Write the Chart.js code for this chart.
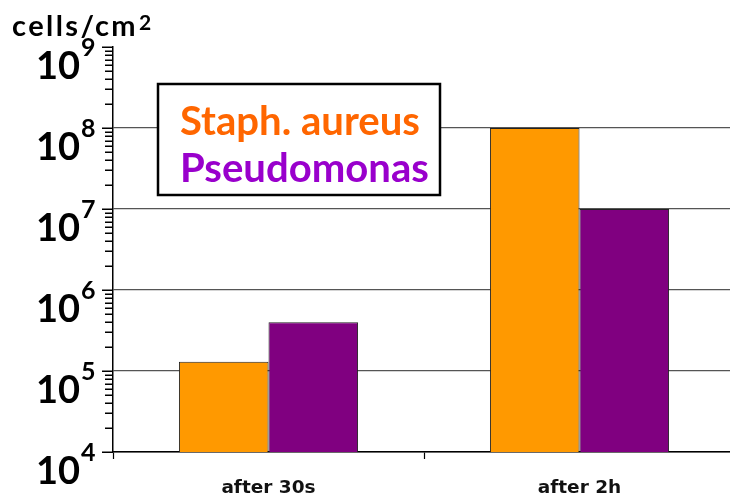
<!DOCTYPE html>
<html lang="en">
<head>
  <meta charset="UTF-8" />
  <title>cells/cm2</title>
  <script src="https://cdn.jsdelivr.net/npm/chart.js"></script>
  <style>
    body {
      margin: 0;
      background: #fff;
      overflow: hidden;
    }
    canvas {
      display: block;
    }
  </style>
</head>
<body>
  <canvas id="cellsChart" width="740" height="496"></canvas>

  <script>
    // data
    const categories = ['after 30s', 'after 2h'];
    const staphValues = [1.3e5, 1e8];
    const pseudoValues = [4e5, 1e7];
    const seriesNames = ['Staph. aureus', 'Pseudomonas'];
    const yExponents = [4, 5, 6, 7, 8, 9];

    const yMin = Math.pow(10, yExponents[0]);
    const yMax = Math.pow(10, yExponents[yExponents.length - 1]);

    // all tick values: powers of ten plus 2..9 in between
    const yTickValues = [];
    yExponents.forEach((e, i) => {
      yTickValues.push(Math.pow(10, e));
      if (i < yExponents.length - 1) {
        for (let k = 2; k <= 9; k++) yTickValues.push(k * Math.pow(10, e));
      }
    });

    const isPow10 = v => Math.abs(Math.log10(v) - Math.round(Math.log10(v))) < 1e-9;

    // ticks, 10^n labels, title and the boxed legend
    const decorations = {
      id: 'decorations',
      afterDraw(chart) {
        const ctx = chart.ctx;
        const y = chart.scales.y;
        const axisX = Math.round(chart.chartArea.left);

        ctx.save();
        ctx.fillStyle = '#000';
        yTickValues.forEach(v => {
          const p = Math.round(y.getPixelForValue(v));
          const len = isPow10(v) ? 11 : 8;
          ctx.fillRect(axisX - len, p - 0.5, len, 1.5);
        });

        yExponents.forEach(e => {
          const p = y.getPixelForValue(Math.pow(10, e));
          ctx.font = 'bold 38px Lato';
          ctx.textAlign = 'right';
          ctx.textBaseline = 'alphabetic';
          ctx.fillText('10', 80, p + 32);
          ctx.font = 'bold 25px Lato';
          ctx.textAlign = 'left';
          ctx.fillText(String(e), 81, p + 9);
        });

        // axis title, spread a little to the width of the original
        ctx.font = 'bold 29px Lato';
        ctx.textAlign = 'left';
        const title = 'cells/cm';
        const w0 = ctx.measureText(title).width;
        ctx.letterSpacing = ((126 - w0) / title.length).toFixed(2) + 'px';
        ctx.fillText(title, 12, 36);
        ctx.letterSpacing = '0px';
        ctx.font = 'bold 21px Lato';
        ctx.fillText('2', 139, 30);

        // legend box
        ctx.fillStyle = '#fff';
        ctx.fillRect(158, 84, 282, 111);
        ctx.strokeStyle = '#000';
        ctx.lineWidth = 2.5;
        ctx.strokeRect(158, 84, 282, 111);

        ctx.font = 'bold 36px Lato';
        const sw = ctx.measureText(seriesNames[0]).width;
        const size = 36 * 240 / sw;
        ctx.font = 'bold ' + size.toFixed(1) + 'px Lato';
        ctx.fillStyle = '#FF6600';
        ctx.fillText(seriesNames[0], 180, 135);
        ctx.fillStyle = '#9900CC';
        ctx.fillText(seriesNames[1], 180, 182);
        ctx.restore();
      }
    };

    const ctxCells = document.getElementById('cellsChart').getContext('2d');
    new Chart(ctxCells, {
      type: 'bar',
      data: {
        labels: categories,
        datasets: [{
          label: seriesNames[0],
          data: staphValues,
          backgroundColor: '#FF9900',
          borderColor: '#222',
          borderWidth: 1
        },
        {
          label: seriesNames[1],
          data: pseudoValues,
          backgroundColor: '#800080',
          borderColor: '#222',
          borderWidth: 1
        }]
      },
      options: {
        responsive: false,
        animation: false,
        categoryPercentage: 0.576,
        barPercentage: 1,
        layout: { padding: { top: 47, right: 5, left: 0, bottom: 0 } },
        plugins: {
          legend: { display: false },
          tooltip: { enabled: false }
        },
        scales: {
          x: {
            grid: {
              offset: true,
              drawOnChartArea: false,
              drawTicks: true,
              tickLength: 7,
              tickColor: '#000',
              tickWidth: 1.2
            },
            border: { color: '#000', width: 1.5 },
            ticks: {
              color: '#111',
              padding: 18,
              font: { family: 'DejaVu Sans', weight: 'bold', size: 18.5 }
            },
            afterFit(scale) { scale.height = 44; }
          },
          y: {
            type: 'logarithmic',
            min: yMin,
            max: yMax,
            afterBuildTicks(scale) {
              scale.ticks = yTickValues.map(v => ({ value: v, major: isPow10(v) }));
            },
            ticks: { display: false },
            grid: {
              drawTicks: false,
              lineWidth: 1.2,
              color: c => (c.tick && isPow10(c.tick.value) && c.tick.value < yMax) ? '#555' : 'rgba(0,0,0,0)'
            },
            border: { color: '#000', width: 1.5 },
            afterFit(scale) { scale.width = 113; }
          }
        }
      },
      plugins: [decorations]
    });
  </script>
</body>
</html>
